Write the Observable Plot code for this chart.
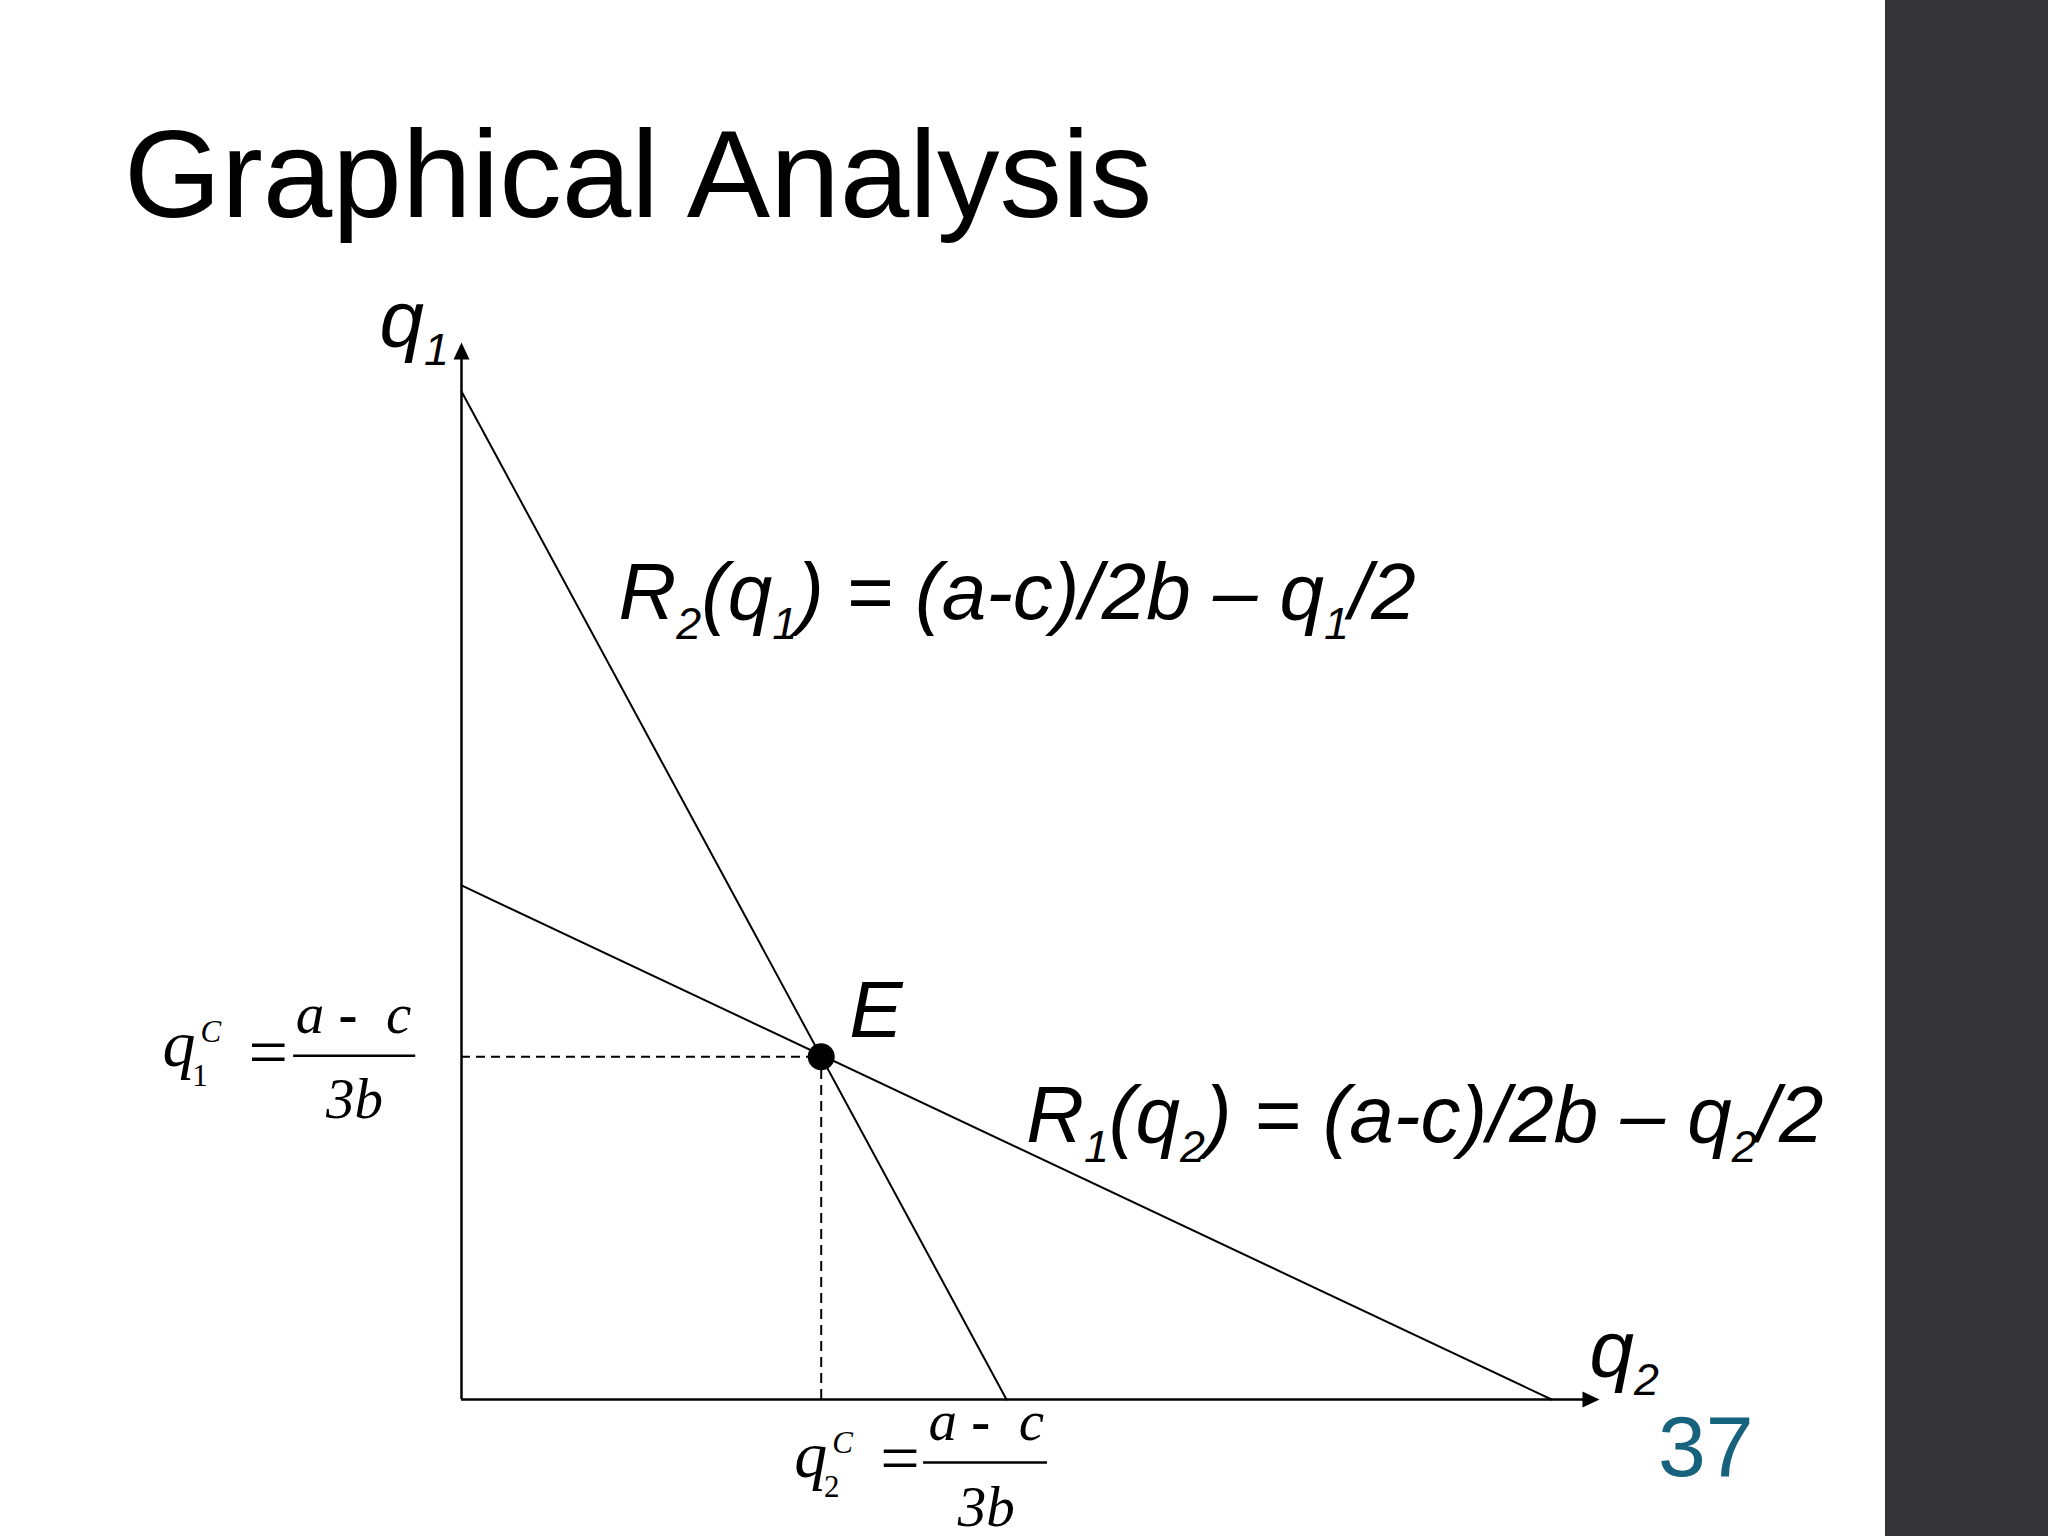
<!DOCTYPE html>
<html>
<head>
<meta charset="utf-8">
<script src="https://cdn.jsdelivr.net/npm/d3@7"></script>
<script src="https://cdn.jsdelivr.net/npm/@observablehq/plot@0.6"></script>
<style>
  html, body { margin: 0; padding: 0; background: #fff; overflow: hidden; }
  #page { position: relative; width: 2048px; height: 1536px; }
  #title { position: relative; height: 240px; }
  #title span { position: absolute; left: 124px; top: 111px; font: 125px/1 "Liberation Sans", Arial, sans-serif; color: #000; white-space: nowrap; }
  #bar { position: absolute; left: 1885px; top: 0; width: 163px; height: 1536px; background: #353537; }
  #num { position: absolute; left: 1658px; top: 1403px; font: 86px/1 "Liberation Sans", Arial, sans-serif; color: #17627d; }
</style>
</head>
<body>
<div id="page">
  <div id="title"><span>Graphical Analysis</span></div>
  <div id="chart"></div>
  <div id="bar"></div>
  <div id="num">37</div>
</div>
<script>
// ---- Data (units of (a-c)/b) ----
// Firm 2's reaction function R2: q2 on the horizontal axis, q1 on the vertical
const r2Q2 = [0, 0.5];
const r2Q1 = [1.0, 0];
// Firm 1's reaction function R1
const r1Q2 = [0, 1.0];
const r1Q1 = [0.51, 0];
// Cournot equilibrium E
const eqQ2 = [0.33];
const eqQ1 = [0.34];
// Axis extents (arrow tips)
const axisQ2Max = [1.044];
const axisQ1Max = [1.0486];
// Text labels
const axisLabels = ["q_{1}", "q_{2}"];
const eqLabel = ["E"];
const reactionLabels = ["R_{2}(q_{1}) = (a-c)/2b – q_{1}/2", "R_{1}(q_{2}) = (a-c)/2b – q_{2}/2"];
const cournotLabels = ["q_{1}^{C}", "q_{2}^{C}"];
const fractionNum = ["a *{-}\u2002c"];
const fractionDen = ["3b"];
const equalsSign = ["="];

// ---- tables built from the arrays ----
const r2 = r2Q2.map((x, i) => ({x, y: r2Q1[i]}));
const r1 = r1Q2.map((x, i) => ({x, y: r1Q1[i]}));
const E = eqQ2.map((x, i) => ({x, y: eqQ1[i]}))[0];
const xMax = axisQ2Max[0], yMax = axisQ1Max[0];

const sans = "Liberation Sans, Arial, sans-serif";
const serif = "Liberation Serif, Times New Roman, serif";

// Filled arrow head, tip at the origin, pointing up
const arrowHead = {
  draw(ctx) {
    ctx.moveTo(0, 0);
    ctx.lineTo(8, 17);
    ctx.lineTo(-8, 17);
    ctx.closePath();
  }
};

const sansLabel = {fontFamily: sans, fontStyle: "italic", fontSize: 80, textAnchor: "start", lineAnchor: "bottom", fill: "black"};
const serifLabel = {fontFamily: serif, fontStyle: "italic", fontSize: 57, lineAnchor: "bottom", fill: "black"};

const chart = Plot.plot({
  width: 2048,
  height: 1296,
  marginLeft: 461,
  marginRight: 449,
  marginTop: 102,
  marginBottom: 137,
  x: {domain: [0, xMax], axis: null},
  y: {domain: [0, yMax], axis: null},
  style: {background: "transparent", overflow: "visible"},
  marks: [
    // axes
    Plot.ruleX([0], {y1: 0, y2: yMax - 0.012, stroke: "black", strokeWidth: 2.5}),
    Plot.ruleY([0], {x1: 0, x2: xMax - 0.012, stroke: "black", strokeWidth: 2.5}),
    Plot.dot([{x: 0, y: yMax}], {x: "x", y: "y", symbol: arrowHead, fill: "black", stroke: null}),
    Plot.dot([{x: xMax, y: 0}], {x: "x", y: "y", symbol: arrowHead, rotate: 90, fill: "black", stroke: null}),
    // dashed guides to the equilibrium
    Plot.ruleY([E], {y: "y", x1: 0, x2: "x", stroke: "black", strokeWidth: 2, strokeDasharray: "9,6"}),
    Plot.ruleX([E], {x: "x", y1: 0, y2: "y", stroke: "black", strokeWidth: 2, strokeDasharray: "10,6"}),
    // reaction functions
    Plot.line(r2, {x: "x", y: "y", stroke: "black", strokeWidth: 2}),
    Plot.line(r1, {x: "x", y: "y", stroke: "black", strokeWidth: 2}),
    // equilibrium point
    Plot.dot([E], {x: "x", y: "y", r: 13.5, fill: "black", stroke: null}),
    Plot.text([E], {x: "x", y: "y", text: () => eqLabel[0], dx: 28, dy: -20, ...sansLabel}),
    // axis labels
    Plot.text([{x: 0, y: yMax}], {x: "x", y: "y", text: () => axisLabels[0], dx: -82, dy: 3, ...sansLabel}),
    Plot.text([{x: xMax, y: 0}], {x: "x", y: "y", text: () => axisLabels[1], dx: -10, dy: -24, ...sansLabel}),
    // reaction function labels
    Plot.text([{x: 0.1440, y: 0.774}], {x: "x", y: "y", text: () => reactionLabels[0], ...sansLabel}),
    Plot.text([{x: 0.5180, y: 0.255}], {x: "x", y: "y", text: () => reactionLabels[1], ...sansLabel}),
    // q1^C = (a-c)/3b on the vertical axis
    Plot.text([{x: 0, y: E.y}], {x: "x", y: "y", text: () => cournotLabels[0], dx: -299, dy: 9, textAnchor: "start", ...serifLabel, fontSize: 66}),
    Plot.text([{x: 0, y: E.y}], {x: "x", y: "y", text: () => equalsSign[0], dx: -213, dy: 19, textAnchor: "start", ...serifLabel, fontStyle: "normal", fontSize: 70}),
    Plot.text([{x: 0, y: E.y}], {x: "x", y: "y", text: () => fractionNum[0], dx: -108, dy: -24, textAnchor: "middle", ...serifLabel}),
    Plot.ruleY([{y: E.y}], {y: "y", x1: -0.154, x2: -0.042, dy: -1, stroke: "black", strokeWidth: 2.5}),
    Plot.text([{x: 0, y: E.y}], {x: "x", y: "y", text: () => fractionDen[0], dx: -107, dy: 61, textAnchor: "middle", ...serifLabel}),
    // q2^C = (a-c)/3b under the horizontal axis
    Plot.text([{x: E.x, y: 0}], {x: "x", y: "y", text: () => cournotLabels[1], dx: -27, dy: 77, textAnchor: "start", ...serifLabel, fontSize: 66}),
    Plot.text([{x: E.x, y: 0}], {x: "x", y: "y", text: () => equalsSign[0], dx: 59, dy: 82, textAnchor: "start", ...serifLabel, fontStyle: "normal", fontSize: 70}),
    Plot.text([{x: E.x, y: 0}], {x: "x", y: "y", text: () => fractionNum[0], dx: 165, dy: 40, textAnchor: "middle", ...serifLabel}),
    Plot.ruleY([{y: 0}], {y: "y", x1: 0.4239, x2: 0.5376, dy: 63, stroke: "black", strokeWidth: 2.5}),
    Plot.text([{x: E.x, y: 0}], {x: "x", y: "y", text: () => fractionDen[0], dx: 165, dy: 126, textAnchor: "middle", ...serifLabel})
  ]
});

document.getElementById("chart").appendChild(chart);

// Turn the _{..} / ^{..} / *{..} markup into sub/superscript tspans
d3.select(chart).selectAll("text").each(function () {
  const raw = this.textContent;
  if (!/[_^*]\{/.test(raw)) return;
  const cs = getComputedStyle(this);
  const fs = parseFloat(cs.fontSize);
  const isSerif = /Liberation Serif|Times/i.test(cs.fontFamily);
  const subDy = (isSerif ? 0.31 : 0.24) * fs;
  const supDy = -(isSerif ? 0.36 : 0.45) * fs;
  const small = (isSerif ? 0.47 : 0.56) * fs;
  this.textContent = "";
  let cur = 0, prevSub = null;
  for (const m of raw.matchAll(/([_^*])\{([^}]*)\}|([^_^*]+)/g)) {
    const ts = d3.select(this).append("tspan");
    let target = 0;
    if (m[1] === "_") {
      target = subDy;
      ts.attr("font-size", small).text(m[2]);
      if (isSerif) ts.attr("font-style", "normal").attr("dx", -0.05 * fs);
    } else if (m[1] === "^") {
      target = supDy;
      ts.attr("font-size", small).text(m[2]);
      if (prevSub) ts.attr("dx", -prevSub.node().getComputedTextLength() + 0.27 * small);
    } else if (m[1] === "*") {
      ts.attr("font-weight", "bold").attr("font-style", "normal").text(m[2]);
    } else {
      ts.text(m[3]);
    }
    if (target !== cur) ts.attr("dy", target - cur);
    cur = target;
    prevSub = m[1] === "_" ? ts : null;
  }
});
</script>
</body>
</html>
